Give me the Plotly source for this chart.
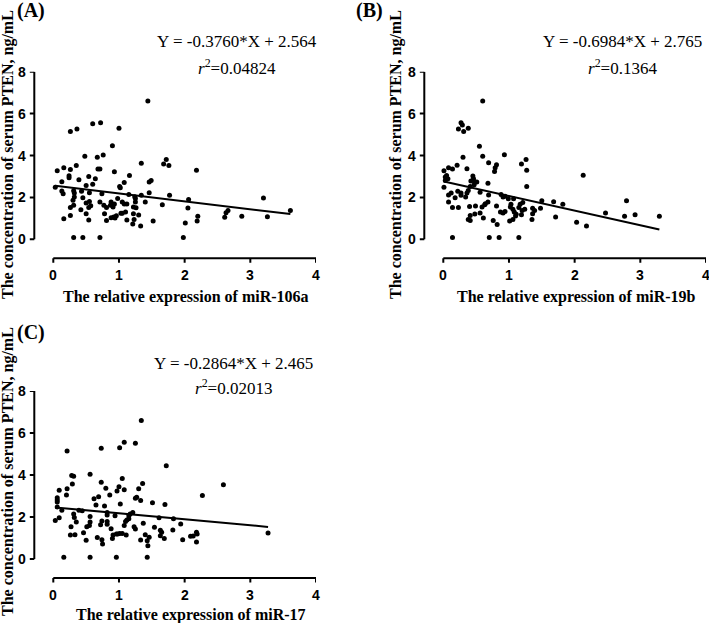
import plotly.graph_objects as go

# ---------------- data ----------------
# Panel A: miR-106a vs serum PTEN
xa = [1.44, 0.26, 0.36, 0.60, 0.72, 1.00, 0.90, 0.48, 0.67, 0.76, 1.34, 1.72, 1.68, 1.76, 2.18,
      0.06, 0.16, 0.26, 0.35, 0.68, 0.71, 0.93, 0.24, 0.24, 0.39, 0.54, 0.64, 1.16, 0.13, 0.50,
      0.60, 1.01, 1.08, 1.02, 1.46, 1.49, 0.03, 0.13, 0.15, 0.31, 0.32, 0.43, 0.55, 0.74, 1.15,
      1.24, 1.25, 1.34, 1.46, 1.77, 2.06, 0.32, 0.30, 0.45, 0.55, 0.50, 0.57, 0.54, 0.71, 0.77,
      0.81, 0.88, 0.87, 0.91, 0.93, 0.98, 1.05, 1.08, 1.12, 1.10, 1.03, 0.96, 0.92, 0.94, 0.88,
      1.25, 1.22, 1.26, 1.40, 1.30, 1.22, 1.23, 1.33, 1.21, 1.12, 1.05, 0.81, 0.78, 0.54, 0.50,
      0.42, 0.26, 0.26, 0.16, 0.31, 1.66, 1.52, 2.05, 2.20, 2.19, 2.01, 1.98, 2.66, 2.63, 2.61,
      2.87, 3.20, 3.26, 3.61, 0.31, 0.45, 0.71]
ya = [6.60, 5.14, 5.27, 5.51, 5.56, 5.30, 4.46, 3.97, 3.92, 4.02, 3.63, 3.81, 3.59, 3.52, 3.29,
      3.27, 3.41, 3.33, 3.52, 3.35, 3.35, 3.22, 3.03, 2.94, 2.84, 3.00, 2.89, 3.05, 2.75, 2.57,
      2.63, 2.52, 2.71, 2.46, 2.73, 2.81, 2.48, 2.30, 2.17, 2.32, 2.21, 2.29, 2.22, 2.17, 2.14,
      2.03, 1.95, 2.10, 2.22, 2.10, 1.90, 2.02, 1.86, 1.98, 1.81, 1.73, 1.60, 1.52, 1.78, 1.63,
      1.52, 1.78, 1.63, 1.54, 1.68, 1.95, 1.78, 1.68, 1.68, 1.30, 1.24, 1.13, 1.06, 1.02, 1.03,
      1.78, 1.54, 1.51, 1.78, 1.16, 1.22, 0.94, 0.63, 0.73, 0.92, 1.24, 0.90, 1.22, 0.92, 1.22,
      1.41, 1.52, 1.14, 0.98, 1.63, 1.65, 0.87, 1.49, 1.10, 0.87, 0.78, 0.08, 1.38, 1.27, 1.05,
      1.10, 1.97, 1.08, 1.37, 0.08, 0.08, 0.08]

# Panel B: miR-19b vs serum PTEN
xb = [0.60, 0.27, 0.29, 0.23, 0.31, 0.38, 0.55, 0.30, 0.60, 0.93, 0.69, 0.81, 0.79, 0.78, 1.19,
      1.26, 1.27, 1.27, 2.13, 0.01, 0.08, 0.14, 0.21, 0.36, 0.05, 0.03, 0.07, 0.03, 0.45, 0.46,
      0.48, 0.51, 0.42, 0.68, 0.01, 0.12, 0.08, 0.22, 0.27, 0.27, 0.36, 0.38, 0.34, 0.41, 0.47,
      0.56, 0.69, 0.88, 0.91, 0.94, 0.99, 1.07, 1.03, 1.17, 1.21, 1.15, 1.50, 1.68, 1.82, 1.36,
      1.39, 1.36, 1.48, 1.24, 0.08, 0.18, 0.14, 0.23, 0.40, 0.49, 0.59, 0.64, 0.68, 0.63, 0.81,
      0.87, 0.91, 1.02, 1.06, 1.08, 1.10, 1.06, 1.01, 0.94, 1.20, 1.19, 1.11, 1.35, 0.41, 0.48,
      0.56, 0.61, 0.38, 0.41, 0.76, 0.82, 1.71, 2.03, 2.18, 2.47, 2.76, 2.79, 2.92, 3.29, 0.14,
      0.70, 0.85, 1.15]
yb = [6.60, 5.56, 5.46, 5.27, 5.14, 5.30, 4.44, 3.92, 3.97, 4.03, 3.65, 3.56, 3.41, 3.24, 3.59,
      3.81, 3.30, 2.52, 3.06, 3.27, 3.41, 3.35, 3.54, 3.37, 3.05, 2.97, 2.89, 2.81, 3.02, 2.89,
      2.73, 2.73, 2.78, 2.68, 2.48, 2.21, 2.11, 2.29, 2.21, 2.10, 2.21, 2.33, 2.02, 2.52, 2.60,
      2.25, 2.11, 2.14, 2.02, 2.05, 1.94, 1.94, 1.67, 1.67, 1.76, 1.52, 1.84, 1.79, 1.67, 1.48,
      1.38, 1.22, 1.48, 1.44, 1.78, 1.98, 1.52, 1.52, 1.57, 1.59, 1.54, 1.70, 1.78, 1.65, 1.59,
      1.30, 1.25, 1.54, 1.43, 1.30, 1.11, 0.94, 0.87, 1.33, 1.38, 1.17, 1.19, 0.95, 1.14, 1.21,
      1.25, 1.02, 0.94, 0.90, 0.90, 0.71, 1.06, 0.81, 0.63, 1.25, 1.10, 1.84, 1.17, 1.10, 0.08,
      0.08, 0.08, 0.08]

# Panel C: miR-17 vs serum PTEN
xc = [1.34, 0.21, 0.73, 1.01, 1.08, 1.25, 1.72, 0.56, 0.28, 0.31, 0.29, 0.73, 1.05, 1.36, 2.59,
      0.09, 0.21, 0.20, 0.80, 1.00, 0.97, 1.08, 1.30, 0.06, 0.06, 0.06, 0.62, 0.69, 0.86, 0.65,
      0.78, 1.02, 1.25, 1.27, 1.33, 1.51, 1.70, 2.27, 0.06, 0.13, 0.09, 0.03, 0.39, 0.44, 0.31,
      0.32, 0.35, 0.27, 0.26, 0.33, 0.56, 0.56, 0.51, 0.55, 0.46, 0.50, 0.74, 0.72, 0.67, 0.74,
      0.75, 0.82, 0.82, 0.82, 0.82, 0.88, 0.91, 0.94, 0.96, 0.98, 1.01, 1.05, 1.08, 1.10, 1.12,
      1.15, 1.17, 1.21, 1.15, 1.11, 0.90, 1.23, 1.25, 1.33, 1.37, 1.40, 1.43, 1.44, 1.46, 1.54,
      1.63, 1.63, 1.65, 1.69, 1.61, 1.83, 1.82, 1.94, 1.97, 2.09, 2.13, 2.18, 2.19, 2.18, 3.27,
      0.16, 0.56, 0.96, 1.43]
yc = [6.60, 5.14, 5.27, 5.30, 5.56, 5.51, 4.44, 4.03, 3.98, 3.94, 3.57, 3.65, 3.83, 3.59, 3.54,
      3.27, 3.35, 3.05, 3.37, 3.44, 3.24, 3.30, 3.35, 2.92, 2.81, 2.71, 2.87, 2.97, 3.05, 2.57,
      2.52, 2.62, 2.89, 2.94, 2.79, 2.68, 2.59, 3.02, 2.48, 2.32, 1.97, 1.83, 2.32, 2.30, 2.14,
      1.98, 1.76, 1.54, 1.14, 1.16, 2.02, 1.76, 1.54, 1.59, 1.25, 0.89, 1.81, 1.63, 1.02, 0.92,
      0.71, 2.10, 2.21, 1.78, 1.65, 1.44, 1.14, 2.06, 1.19, 1.19, 1.22, 1.22, 1.59, 1.78, 1.86,
      2.06, 2.14, 2.21, 1.92, 1.14, 0.98, 1.54, 1.43, 0.90, 1.70, 1.16, 0.87, 0.63, 1.03, 1.51,
      1.11, 1.37, 1.27, 0.98, 1.97, 1.92, 1.38, 1.67, 0.92, 1.08, 1.10, 1.27, 1.19, 0.81, 1.24,
      0.08, 0.08, 0.08, 0.08]

slopes = [-0.3760, -0.6984, -0.2864]
intercepts = [2.564, 2.765, 2.465]
r2_labels = ["0.04824", "0.1364", "0.02013"]
panel_labels = ["(A)", "(B)", "(C)"]
x_titles = ["The relative expression of miR-106a",
            "The relative expression of miR-19b",
            "The relative expression of miR-17"]
y_title = "The concentration of serum PTEN, ng/mL"
x_ticks = [0, 1, 2, 3, 4]
y_ticks = [0, 2, 4, 6, 8]
x_lim = (0, 4)
y_lim = (0, 8)

# ---------------- layout geometry (pixels) ----------------
W, H = 709, 623
def fx(p):
    return p / W
def fy(p):
    return 1 - p / H

geo = [
    dict(xd=(53.3, 316.0), yd=(71.7, 239.3), xline=258.3, yline=34.3,
         lab=(31, 11), eq=(237, 42), r2=(237, 67), xt=(186, 297), yt=(8, 155)),
    dict(xd=(443.3, 706.0), yd=(71.7, 239.3), xline=258.3, yline=424.3,
         lab=(369, 11), eq=(622, 42), r2=(622, 67), xt=(576, 297), yt=(396, 155)),
    dict(xd=(53.3, 316.0), yd=(391.0, 559.0), xline=578.0, yline=34.3,
         lab=(31, 332), eq=(233, 363), r2=(233, 387), xt=(191, 615), yt=(8, 472)),
]
TICK = 4.5        # tick length, px
XLAB_GAP = 17     # x tick label centre below axis line, px
YLAB_GAP = 6      # y tick label right edge left of axis line, px
PAD = 10          # extra room kept inside the domains, px

serif = "Liberation Serif, Times New Roman, serif"
sans = "Liberation Sans, Arial, sans-serif"

datasets = [(xa, ya), (xb, yb), (xc, yc)]

fig = go.Figure()
annotations = []
layout_axes = {}

def sfx(n):
    return "" if n == 1 else str(n)

for i, (xs, ys) in enumerate(datasets):
    n = i + 1
    g = geo[i]
    xr, yr = "x" + sfx(n), "y" + sfx(n)

    ppx = (g["xd"][1] - g["xd"][0]) / (x_lim[1] - x_lim[0])   # px per x unit
    ppy = (g["yd"][1] - g["yd"][0]) / (y_lim[1] - y_lim[0])   # px per y unit
    # axis-line positions expressed on the axis scales
    x_axis_at = y_lim[0] - (g["xline"] - g["yd"][1]) / ppy
    y_axis_at = x_lim[0] - (g["xd"][0] - g["yline"]) / ppx
    # domains widened to the left / bottom so the offset axes fit inside
    left_px = g["yline"] - PAD
    bottom_px = g["xline"] + PAD
    xr0 = x_lim[0] - (g["xd"][0] - left_px) / ppx
    yr0 = y_lim[0] - (bottom_px - g["yd"][1]) / ppy
    layout_axes["xaxis" + sfx(n)] = dict(
        domain=[fx(left_px), fx(g["xd"][1])], range=[xr0, x_lim[1]],
        anchor=yr, visible=False, fixedrange=True)
    layout_axes["yaxis" + sfx(n)] = dict(
        domain=[fy(bottom_px), fy(g["yd"][0])], range=[yr0, y_lim[1]],
        anchor=xr, visible=False, fixedrange=True)

    # offset axes drawn on the axis scales: main line plus tick marks
    ax_x, ax_y = [x_lim[0], x_lim[1], None], [x_axis_at, x_axis_at, None]
    for v in x_ticks:
        ax_x += [v, v, None]
        ax_y += [x_axis_at, x_axis_at - TICK / ppy, None]
    fig.add_trace(go.Scatter(x=ax_x, y=ax_y, mode="lines",
                             line=dict(color="black", width=2),
                             xaxis=xr, yaxis=yr, cliponaxis=False,
                             hoverinfo="skip", showlegend=False))
    ay_x, ay_y = [y_axis_at, y_axis_at, None], [y_lim[0], y_lim[1], None]
    for v in y_ticks:
        ay_x += [y_axis_at, y_axis_at - TICK / ppx, None]
        ay_y += [v, v, None]
    fig.add_trace(go.Scatter(x=ay_x, y=ay_y, mode="lines",
                             line=dict(color="black", width=2),
                             xaxis=xr, yaxis=yr, cliponaxis=False,
                             hoverinfo="skip", showlegend=False))

    # data
    fig.add_trace(go.Scatter(
        x=xs, y=ys, mode="markers",
        marker=dict(color="black", size=5, line=dict(width=0)),
        xaxis=xr, yaxis=yr, cliponaxis=False, showlegend=False))
    x0, x1 = min(xs), max(xs)
    fig.add_trace(go.Scatter(
        x=[x0, x1], y=[intercepts[i] + slopes[i] * x0, intercepts[i] + slopes[i] * x1],
        mode="lines", line=dict(color="black", width=2),
        xaxis=xr, yaxis=yr, cliponaxis=False, showlegend=False))

    # tick labels
    for v in x_ticks:
        annotations.append(dict(text="<b>%g</b>" % v, xref=xr, yref="paper", x=v,
                                y=fy(g["xline"] + XLAB_GAP), showarrow=False,
                                xanchor="center", yanchor="middle",
                                font=dict(family=sans, size=14, color="black")))
    for v in y_ticks:
        annotations.append(dict(text="<b>%g</b>" % v, xref="paper", yref=yr,
                                x=fx(g["yline"] - YLAB_GAP), y=v, showarrow=False,
                                xanchor="right", yanchor="middle",
                                font=dict(family=sans, size=14, color="black")))

    eq_text = "Y = %.4f*X + %.3f" % (slopes[i], intercepts[i])
    annotations += [
        dict(text="<b>%s</b>" % panel_labels[i], x=fx(g["lab"][0]), y=fy(g["lab"][1]),
             xref="paper", yref="paper", showarrow=False, xanchor="center", yanchor="middle",
             font=dict(family=serif, size=20, color="black")),
        dict(text=eq_text, x=fx(g["eq"][0]), y=fy(g["eq"][1]),
             xref="paper", yref="paper", showarrow=False, xanchor="center", yanchor="middle",
             font=dict(family=serif, size=17, color="black")),
        dict(text="<i>r</i><sup>2</sup>=%s" % r2_labels[i], x=fx(g["r2"][0]), y=fy(g["r2"][1]),
             xref="paper", yref="paper", showarrow=False, xanchor="center", yanchor="middle",
             font=dict(family=serif, size=17, color="black")),
        dict(text="<b>%s</b>" % x_titles[i], x=fx(g["xt"][0]), y=fy(g["xt"][1]),
             xref="paper", yref="paper", showarrow=False, xanchor="center", yanchor="middle",
             font=dict(family=serif, size=16, color="black")),
        dict(text="<b>%s</b>" % y_title, x=fx(g["yt"][0]), y=fy(g["yt"][1]), textangle=-90,
             xref="paper", yref="paper", showarrow=False, xanchor="center", yanchor="middle",
             font=dict(family=serif, size=16, color="black")),
    ]

fig.update_layout(
    width=W, height=H,
    margin=dict(l=0, r=0, t=0, b=0),
    paper_bgcolor="white", plot_bgcolor="white",
    showlegend=False,
    annotations=annotations,
    **layout_axes)

fig.write_html("out.html", config={"displayModeBar": False},
               post_script="document.body.style.margin='0';document.body.style.overflow='hidden';")
